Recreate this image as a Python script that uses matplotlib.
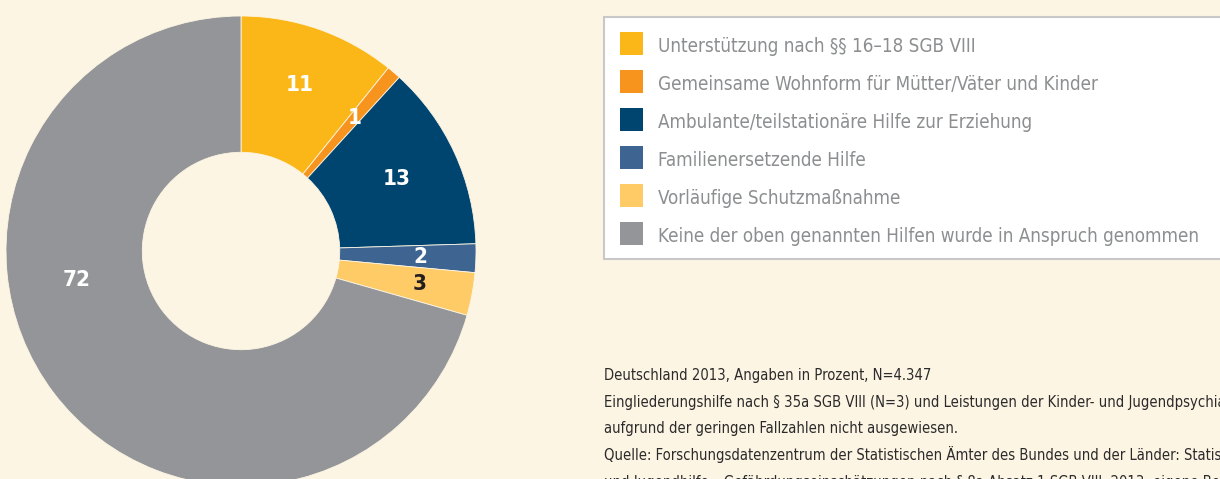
import matplotlib
matplotlib.use("Agg")
import matplotlib.pyplot as plt
from matplotlib.patches import Rectangle
import numpy as np

plt.rcParams['font.family'] = ['DejaVu Sans']
plt.rcParams['font.stretch'] = 'condensed'

categories = [
    "Unterstützung nach §§ 16–18 SGB VIII",
    "Gemeinsame Wohnform für Mütter/Väter und Kinder",
    "Ambulante/teilstationäre Hilfe zur Erziehung",
    "Familienersetzende Hilfe",
    "Vorläufige Schutzmaßnahme",
    "Keine der oben genannten Hilfen wurde in Anspruch genommen",
]
values = [11, 1, 13, 2, 3, 72]
labels = ["11", "1", "13", "2", "3", "72"]
colors = ["#FBB718", "#F7941D", "#004470", "#3E6591", "#FECB67", "#939598"]
label_colors = ["white", "white", "white", "white", "#231F20", "white"]

notes = [
    "Deutschland 2013, Angaben in Prozent, N=4.347",
    "Eingliederungshilfe nach § 35a SGB VIII (N=3) und Leistungen der Kinder- und Jugendpsychiatrie wurden",
    "aufgrund der geringen Fallzahlen nicht ausgewiesen.",
    "Quelle: Forschungsdatenzentrum der Statistischen Ämter des Bundes und der Länder: Statistiken der Kinder-",
    "und Jugendhilfe – Gefährdungseinschätzungen nach § 8a Absatz 1 SGB VIII, 2013; eigene Berechnungen",
]

BG = "#FDF5E4"
W, H = 1220, 479
fig = plt.figure(figsize=(W / 100, H / 100), dpi=100, facecolor=BG)
ax = fig.add_axes([0, 0, 1, 1])
ax.set_facecolor(BG)

cx, cy, R = 241, H - 251, 235
wedges, _ = ax.pie(values, colors=colors, startangle=90, counterclock=False,
                   center=(cx, cy), radius=R, frame=True,
                   wedgeprops=dict(width=R * 0.58, edgecolor=BG, linewidth=0.6))
ax.set_xlim(0, W)
ax.set_ylim(0, H)
ax.set_aspect('equal')
ax.axis('off')

# value labels
label_r = [0.75, 0.745, 0.73, 0.765, 0.775, 0.71]
for i, w in enumerate(wedges):
    th = np.deg2rad((w.theta1 + w.theta2) / 2)
    if labels[i] == "72":
        th = np.deg2rad(190)
    r = R * label_r[i]
    ax.text(cx + r * np.cos(th), cy + r * np.sin(th), labels[i], ha='center', va='center',
            color=label_colors[i], fontsize=16, fontweight='bold')

# legend box
ax.add_patch(Rectangle((604, H - 259), 700, 242, facecolor='white', edgecolor='#C8C8C8', lw=1.5, zorder=1))
sq_y = [43.7, 81.6, 119.5, 157.4, 195.3, 233.2]
leg_texts = []
for i, cat in enumerate(categories):
    y = H - sq_y[i]
    ax.add_patch(Rectangle((620, y - 11.5), 23, 23, facecolor=colors[i], edgecolor='none', zorder=2))
    leg_texts.append(ax.text(658, y - 8.5, cat, ha='left', va='baseline', color='#8C8E90',
                             fontsize=13, zorder=3))

note_base = [380, 407, 433.5, 460, 486.5]
note_texts = []
for i, t in enumerate(notes):
    note_texts.append(ax.text(604, H - note_base[i], t, ha='left', va='baseline', color='#2B2B2B',
                              fontsize=10, clip_on=False))

# fit font sizes to the widths in the reference
fig.canvas.draw()
rend = fig.canvas.get_renderer()
def fit(texts, idx, target):
    wpx = texts[idx].get_window_extent(rend).width
    fs = texts[idx].get_fontsize() * target / wpx
    for t in texts:
        t.set_fontsize(fs)
fit(leg_texts, 5, 545)
fit(note_texts, 0, 326)

fig.savefig("out.png", dpi=100, facecolor=BG)
